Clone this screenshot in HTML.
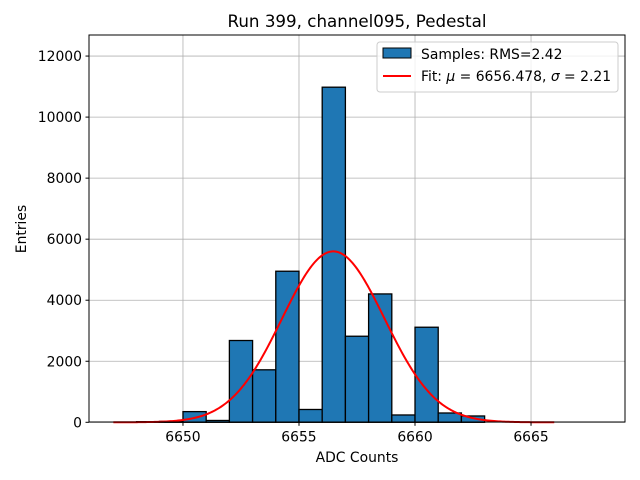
<!DOCTYPE html>
<html><head><meta charset="utf-8"><style>
html,body{margin:0;padding:0;background:#fff;}
svg{display:block;font-family:"DejaVu Sans","Liberation Sans",sans-serif;}
</style></head><body>
<svg id="chart" width="640" height="480" viewBox="0 0 640 480">
<rect width="640" height="480" fill="#fff"/>
<g id="grid"></g>
<g id="bars"></g>
<path id="fit" fill="none" stroke="red" stroke-width="2"/>
<rect x="89" y="35" width="536" height="387" fill="none" stroke="#000" stroke-width="1"/>
<g id="ticks"></g>
<text x="357" y="27" font-size="16.7" text-anchor="middle">Run 399, channel095, Pedestal</text>
<text x="357" y="462" font-size="13.9" text-anchor="middle">ADC Counts</text>
<text x="26" y="229" font-size="13.9" text-anchor="middle" transform="rotate(-90 26 229)">Entries</text>
<g>
<rect x="377" y="42" width="241" height="50" rx="3" fill="#fff" fill-opacity="0.8" stroke="#ccc"/>
<rect x="383" y="48" width="28" height="10" fill="#1f77b4" stroke="#000"/>
<text x="421" y="59" font-size="13.9">Samples: RMS=2.42</text>
<line x1="383" y1="76" x2="411" y2="76" stroke="red" stroke-width="2"/>
<text x="421" y="81" font-size="13.9">Fit: <tspan font-style="italic">μ</tspan> = 6656.478, <tspan font-style="italic">σ</tspan> = 2.21</text>
</g>
</svg>
<script>
const binEdges = [6647,6648,6649,6650,6651,6652,6653,6654,6655,6656,6657,6658,6659,6660,6661,6662,6663,6664,6665,6666,6667,6668];
const counts = [0,20,30,350,60,2680,1720,4950,420,10980,2820,4206,240,3115,305,207,0,0,0,0,0];
const fitMu = 6656.478, fitSigma = 2.21, fitAmp = 5600;
const fitRange = [6647, 6666];
const xTicks = [6650,6655,6660,6665];
const yTicks = [0,2000,4000,6000,8000,10000,12000];

const L=89,R=625,T=35,B=422.3;
const xMin=6645.95,xMax=6669.05,yMin=0,yMax=12690;
const X=v=>L+(v-xMin)/(xMax-xMin)*(R-L);
const Y=v=>B-(v-yMin)/(yMax-yMin)*(B-T);
const NS='http://www.w3.org/2000/svg';
function mk(tag,attrs,parent){const e=document.createElementNS(NS,tag);for(const k in attrs)e.setAttribute(k,attrs[k]);parent.appendChild(e);return e;}
const grid=document.getElementById('grid'),ticks=document.getElementById('ticks'),bars=document.getElementById('bars');
xTicks.forEach(t=>{
  const x=X(t);
  const g=mk('line',{x1:x,x2:x,y1:T,y2:B,stroke:'#b0b0b0','stroke-width':0.8},grid);
  
  
  const tk=mk('line',{x1:x,x2:x,y1:B,y2:B+3.5,stroke:'#000'},ticks);
  
  
  const tx=mk('text',{x:x,y:B+19,'font-size':13.9,'text-anchor':'middle'},ticks);
  tx.textContent=t;
  
  
});
yTicks.forEach(t=>{
  const y=Y(t);
  const g=mk('line',{x1:L,x2:R,y1:y,y2:y,stroke:'#b0b0b0','stroke-width':0.8},grid);
  
  
  const tk=mk('line',{x1:L-3.5,x2:L,y1:y,y2:y,stroke:'#000'},ticks);
  
  
  const tx=mk('text',{x:L-7,y:y+5,'font-size':13.9,'text-anchor':'end'},ticks);
  tx.textContent=t;
  
  
});
counts.forEach((c,i)=>{
  if(c<=0)return;
  const x0=X(binEdges[i]),x1=X(binEdges[i+1]);
  const r=mk('rect',{x:x0,y:Y(c),width:x1-x0,height:Y(0)-Y(c),fill:'#1f77b4',stroke:'#000','stroke-width':1.3},bars);
  
  
});
let d='';
for(let i=0;i<=300;i++){
  const v=fitRange[0]+(fitRange[1]-fitRange[0])*i/300;
  const f=fitAmp*Math.exp(-0.5*Math.pow((v-fitMu)/fitSigma,2));
  d+=(i?'L':'M')+X(v).toFixed(2)+' '+Y(f).toFixed(2);
}
document.getElementById('fit').setAttribute('d',d);
</script>
</body></html>
